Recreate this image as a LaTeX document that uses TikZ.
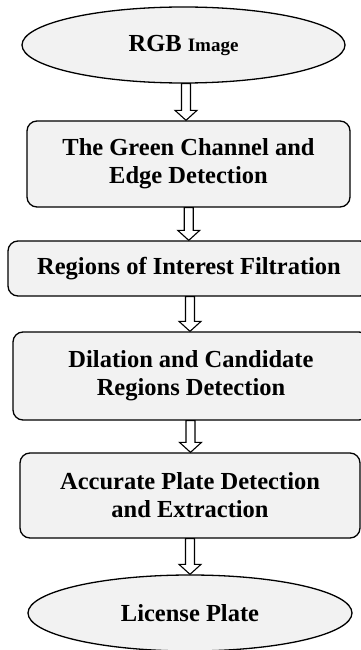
\documentclass[tikz,border=0pt]{standalone}
\usepackage{fontspec}
\setmainfont{Liberation Serif}
\usetikzlibrary{shapes.geometric,calc}

\tikzset{
  stage/.style={draw=black, line width=1.3pt, fill=boxgray, rounded corners=10pt,
    align=center, inner sep=0pt, font=\fontsize{24.5}{28}\selectfont\bfseries},
  terminal/.style={draw=black, line width=1.3pt, fill=boxgray, ellipse,
    align=center, inner sep=0pt, font=\fontsize{24.5}{28}\selectfont\bfseries},
  fatarrow/.style={draw=black, line width=1.1pt, fill=white, line join=miter},
}
\definecolor{boxgray}{HTML}{F2F2F2}

% hollow block arrow from the bottom of one node to the top of the next
\newcommand\flowarrow[2]{%
  \draw[fatarrow] let \p1=(#1.south), \p2=(#2.north), \n1={(\x1+\x2)/2} in
    (\n1-4.5pt,\y1) -- (\n1-4.5pt,\y2+10pt) -- (\n1-11pt,\y2+10pt) --
    (\n1,\y2) -- (\n1+11pt,\y2+10pt) -- (\n1+4.5pt,\y2+10pt) --
    (\n1+4.5pt,\y1) -- cycle;}

\begin{document}
\begin{tikzpicture}[x=1pt,y=-1pt]
  \useasboundingbox (0,0) rectangle (361,650);

  \node[terminal, minimum width=323pt, minimum height=76pt] (rgb) at (183.5,45)
    {RGB {\fontsize{19}{22}\selectfont Image}};
  \node[stage, minimum width=323pt, minimum height=86pt] (green) at (188.5,164)
    {The Green Channel and\\Edge Detection};
  \node[stage, minimum width=362pt, minimum height=55pt] (roi) at (189,268.5)
    {Regions of Interest Filtration};
  \node[stage, minimum width=356pt, minimum height=88pt] (dil) at (191,376)
    {Dilation and Candidate\\Regions Detection};
  \node[stage, minimum width=340pt, minimum height=85pt] (acc) at (190,495.5)
    {Accurate Plate Detection\\and Extraction};
  \node[terminal, minimum width=324pt, minimum height=76pt] (plate) at (190,613)
    {License Plate};

  \flowarrow{rgb}{green}
  \flowarrow{green}{roi}
  \flowarrow{roi}{dil}
  \flowarrow{dil}{acc}
  \flowarrow{acc}{plate}
\end{tikzpicture}
\end{document}
